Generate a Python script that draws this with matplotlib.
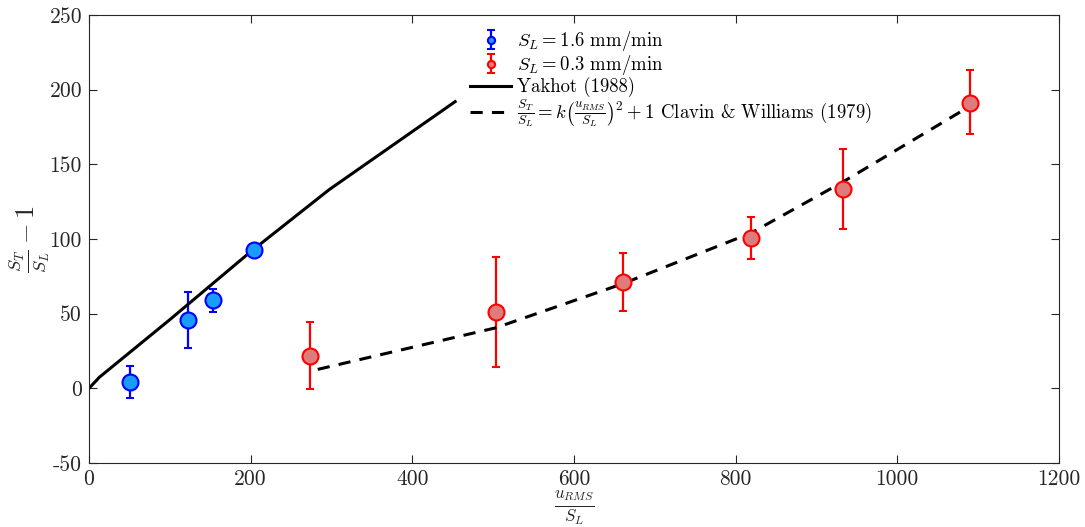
import matplotlib.pyplot as plt

plt.rcParams['font.family'] = 'serif'
plt.rcParams['font.serif'] = ['cmr10']
plt.rcParams['mathtext.fontset'] = 'cm'
plt.rcParams['axes.formatter.use_mathtext'] = True

# fast flame, S_L = 1.6 mm/min
x_fast = [50.7, 122.8, 153, 204]
y_fast = [4, 45.5, 59, 92.4]
err_fast_lo = [10.7, 18.7, 8.1, 1.5]
err_fast_hi = [10.7, 18.8, 7.3, 1.5]

# slow flame, S_L = 0.3 mm/min
x_slow = [273.4, 503.5, 660.6, 819, 932.8, 1090]
y_slow = [21.4, 51, 71, 100.5, 133.3, 191]
err_slow_lo = [22.1, 36.9, 19.4, 14.1, 26.8, 21]
err_slow_hi = [22.8, 36.7, 19.4, 14.5, 26.7, 22]

# Yakhot (1988)
x_yak = [0, 13, 100, 200, 297, 453]
y_yak = [0, 7.5, 46, 91.5, 133, 192]

# Clavin & Williams (1979)
x_cw = [283, 503, 660, 819, 932, 1090]
y_cw = [12.7, 40.5, 70, 104, 138, 189]

fig = plt.figure(figsize=(10.85, 5.27), dpi=100)
ax = fig.add_axes([0.082, 0.1214, 0.894, 0.8501])

h1 = ax.errorbar(x_fast, y_fast, yerr=[err_fast_lo, err_fast_hi], fmt='o', color='blue',
                 mfc='#1a9cff', mec='blue', ms=11.5, mew=1.5, elinewidth=1.6, capsize=3,
                 capthick=1.6, label=r'$S_L = 1.6$ mm/min')
h2 = ax.errorbar(x_slow, y_slow, yerr=[err_slow_lo, err_slow_hi], fmt='o', color='red',
                 mfc='#e07b7b', mec='red', ms=11.5, mew=1.5, elinewidth=1.6, capsize=3,
                 capthick=1.6, label=r'$S_L = 0.3$ mm/min')
h3, = ax.plot(x_yak, y_yak, '-', color='black', lw=2.2, label='Yakhot (1988)')
h4, = ax.plot(x_cw, y_cw, '--', color='black', lw=2.2, dashes=(4, 3),
              label=r'$\frac{S_T}{S_L} = k\left(\frac{u_{RMS}}{S_L}\right)^{2} + 1$ Clavin & Williams (1979)')

ax.set_xlim(0, 1200)
ax.set_ylim(-50, 250)
ax.set_xticks([0, 200, 400, 600, 800, 1000, 1200])
ax.set_xticklabels(['0', '200', '400', '600', '800', '1000', '1200'])
ax.set_yticks([-50, 0, 50, 100, 150, 200, 250])
ax.set_yticklabels(['-50', '0', '50', '100', '150', '200', '250'])
ax.tick_params(direction='in', length=6, width=0.8, labelsize=15.5, colors='#262626',
               top=True, right=True, pad=5)
for s in ax.spines.values():
    s.set_color('#262626')
    s.set_linewidth(0.8)

ax.set_xlabel(r'$\frac{u_{RMS}}{S_L}$', fontsize=17.5, color='#262626', labelpad=-1)
ax.set_ylabel(r'$\frac{S_T}{S_L} - 1$', fontsize=19, color='#262626', labelpad=-2)

ax.legend(handles=[h1, h2, h3, h4], loc='upper left', bbox_to_anchor=(0.385, 0.985),
          frameon=False, fontsize=13.5, handlelength=2.2, handletextpad=0.3,
          labelspacing=0.0, borderaxespad=0, markerscale=0.45)

fig.savefig('out.png', dpi=100)
